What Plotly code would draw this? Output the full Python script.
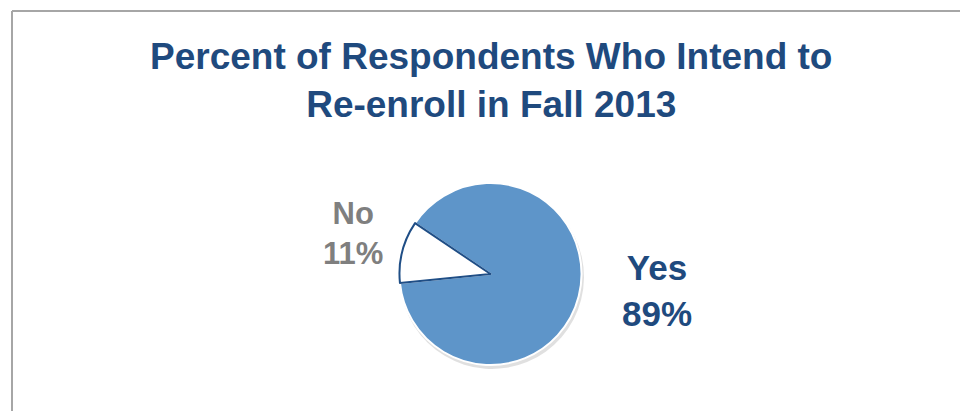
import plotly.graph_objects as go

labels = ["Yes", "No"]
values = [89, 11]
percent_text = ["89%", "11%"]
slice_colors = ["#5E95C9", "#FFFFFF"]
outline_colors = ["#FFFFFF", "#1F4E86"]
label_colors = ["#1F4A7E", "#7F7F7F"]
title_lines = ["Percent of Respondents Who Intend to", "Re-enroll in Fall 2013"]

W, H = 960, 411
cx, cy, r = 490.5, 274, 91

def dom(cx, cy, r):
    return dict(x=[(cx - r) / W, (cx + r) / W], y=[(H - cy - r) / H, (H - cy + r) / H])

fig = go.Figure()
# soft shadow under the pie
fig.add_trace(go.Pie(
    labels=labels, values=values, sort=False, direction="clockwise", rotation=304,
    domain=dom(cx + 1.5, cy + 3, r + 1),
    marker=dict(colors=["rgba(0,0,0,0.12)"] * 2, line=dict(width=0)),
    textinfo="none", hoverinfo="skip", showlegend=False,
))
fig.add_trace(go.Pie(
    labels=labels, values=values, sort=False, direction="clockwise", rotation=304,
    domain=dom(cx, cy, r),
    marker=dict(colors=slice_colors, line=dict(color=outline_colors, width=[2, 2])),
    textinfo="none", showlegend=False,
))

fig.add_annotation(x=657 / W, y=1 - 290 / H, xref="paper", yref="paper",
                   text=f"<b>{labels[0]}<br>{percent_text[0]}</b>", showarrow=False,
                   font=dict(family="Liberation Sans", size=35, color=label_colors[0]),
                   xanchor="center", yanchor="middle", align="center")
fig.add_annotation(x=353 / W, y=1 - 233 / H, xref="paper", yref="paper",
                   text=f"<b>{labels[1]}<br>{percent_text[1]}</b>", showarrow=False,
                   font=dict(family="Liberation Sans", size=31, color=label_colors[1]),
                   xanchor="center", yanchor="middle", align="center")

fig.add_annotation(x=491 / W, y=1 - 81 / H, xref="paper", yref="paper",
                   text="<b>" + "<br>".join(title_lines) + "</b>", showarrow=False,
                   font=dict(family="Liberation Sans", size=37, color="#1F4A7E"),
                   xanchor="center", yanchor="middle", align="center")

fig.update_layout(
    width=W, height=H, margin=dict(l=0, r=0, t=0, b=0),
    paper_bgcolor="white", plot_bgcolor="white",
    shapes=[
        dict(type="line", xref="paper", yref="paper", x0=12 / W, x1=1.01, y0=1 - 11 / H, y1=1 - 11 / H,
             line=dict(color="#A6A6A6", width=2)),
        dict(type="line", xref="paper", yref="paper", x0=12 / W, x1=12 / W, y0=1 - 11 / H, y1=-0.01,
             line=dict(color="#A6A6A6", width=2)),
    ],
)

fig.write_html("out.html")
